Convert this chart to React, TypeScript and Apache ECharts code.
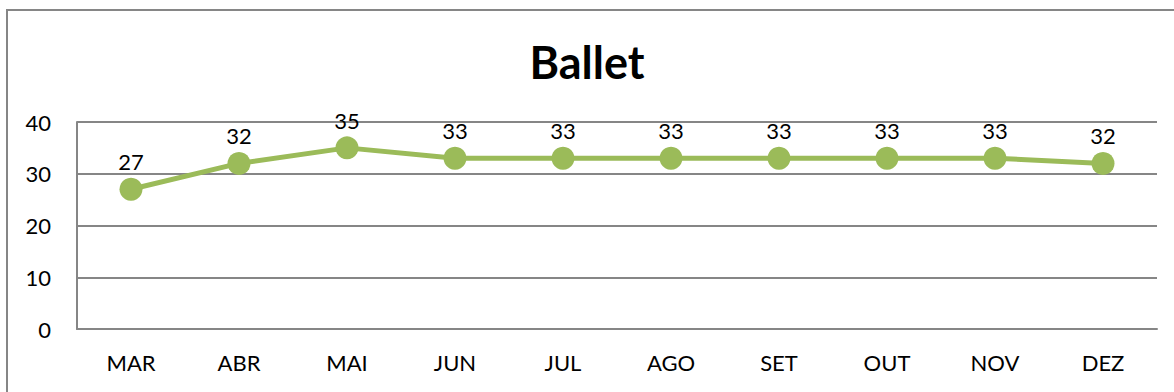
import React, { useEffect, useRef } from "react";
import * as echarts from "echarts";

const categories = ["MAR", "ABR", "MAI", "JUN", "JUL", "AGO", "SET", "OUT", "NOV", "DEZ"];
const values = [27, 32, 35, 33, 33, 33, 33, 33, 33, 32];
const yTicks = { min: 0, max: 40, interval: 10 };
const title = "Ballet";

export default function App() {
  const ref = useRef<HTMLDivElement>(null);
  useEffect(() => {
    if (!ref.current) return;
    const chart = echarts.init(ref.current, null, { renderer: "svg" });
    const font = "Lato, 'Open Sans', sans-serif";
    chart.setOption({
      animation: false,
      backgroundColor: "#ffffff",
      textStyle: { fontFamily: font },
      title: {
        text: title,
        left: "center",
        top: 34,
        textStyle: { fontFamily: font, fontSize: 45, fontWeight: "bold", color: "#000" },
      },
      graphic: [
        {
          type: "rect",
          shape: { x: 7, y: 10, width: 1200, height: 420 },
          style: { fill: "none", stroke: "#868686", lineWidth: 2 },
          silent: true,
          z: -1,
        },
      ],
      grid: { left: 77, right: 17, top: 122, bottom: 63, containLabel: false },
      xAxis: {
        type: "category",
        data: categories,
        boundaryGap: true,
        axisLine: { show: true, lineStyle: { color: "#868686", width: 2 } },
        axisTick: { show: false },
        axisLabel: { color: "#000", fontSize: 22, fontFamily: font, margin: 22 },
      },
      yAxis: {
        type: "value",
        min: yTicks.min,
        max: yTicks.max,
        interval: yTicks.interval,
        axisLine: { show: true, lineStyle: { color: "#868686", width: 2 } },
        axisTick: { show: false },
        splitLine: { show: true, lineStyle: { color: "#868686", width: 2 } },
        axisLabel: { color: "#000", fontSize: 22, fontFamily: font, margin: 26 },
      },
      series: [
        {
          type: "line",
          data: values,
          symbol: "circle",
          symbolSize: 23,
          itemStyle: { color: "#9BBB59" },
          lineStyle: { color: "#9BBB59", width: 5 },
          label: {
            show: true,
            position: "top",
            distance: 5,
            color: "#000",
            fontSize: 22,
            fontFamily: font,
          },
        },
      ],
    });
    return () => chart.dispose();
  }, []);
  return <div ref={ref} style={{ width: 1174, height: 392, position: "absolute", left: 0, top: 0 }} />;
}
